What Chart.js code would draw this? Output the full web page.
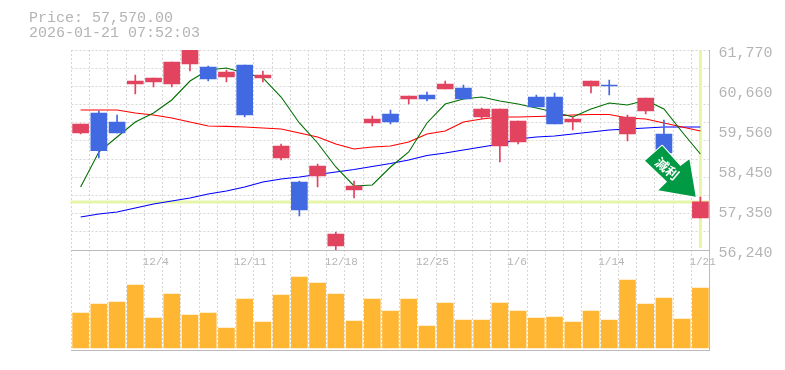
<!DOCTYPE html>
<html><head><meta charset="utf-8">
<style>html,body{margin:0;padding:0;background:#fff}canvas{display:block}</style>
<script src="https://cdn.jsdelivr.net/npm/chart.js@4"></script>
</head><body><canvas id="c" width="785" height="370"></canvas>
<script>
const tickLabelsX = {4:'12/4',9:'12/11',14:'12/18',19:'12/25',24:'1/6',29:'1/14',34:'1/21'};
const categories = ['11/27','11/28','12/1','12/2','12/4','12/5','12/6','12/7','12/8','12/11','12/12','12/13','12/14','12/15','12/18','12/19','12/20','12/21','12/22','12/25','12/26','12/27','12/28','12/29','1/6','1/7','1/8','1/9','1/10','1/14','1/15','1/16','1/17','1/20','1/21'];
const opens  = [59475,60028,59779,60830,60885,60830,61383,61300,61023,61355,60996,58784,58120,58286,56351,57899,59751,60000,60415,60526,60692,60719,59917,59116,59226,60470,60470,59779,60775,60802,59447,60083,59447,58452,57125];
const closes = [59724,58985,59475,60913,60996,61438,61770,60968,61162,59973,61079,59116,57346,58563,56682,58010,59862,59779,60498,60415,60830,60415,60139,60139,59807,60194,59724,59862,60913,60775,59917,60443,58922,58120,57570];
const highs  = [59724,60083,59972,61079,60996,61438,61770,61328,61217,61355,61190,59171,58148,58618,56738,58148,59945,60111,60498,60609,60913,60802,60166,60139,59807,60526,60581,59917,60913,60941,59973,60443,59834,58452,57705];
const lows   = [59447,58784,59475,60553,60747,60747,61190,60913,60885,59917,60885,58729,57180,57982,56240,57678,59669,59724,60277,60360,60692,60415,59862,58673,59171,60194,59724,59558,60581,60526,59254,60000,58922,58120,57125];
const maShort = [57982,58950,59364,59779,60028,60388,60913,61217,61272,61134,60996,60470,59752,59199,58535,58010,58037,58535,58950,59752,60277,60415,60470,60360,60277,60166,60056,59917,60139,60305,60249,60380,60139,59503,58894];
const maMid   = [60111,60111,60111,60028,59973,59890,59779,59669,59660,59641,59613,59586,59475,59364,59171,59033,59088,59116,59226,59447,59530,59779,59862,59917,59917,59931,59945,59973,59986,59986,59890,59862,59752,59641,59530];
const maLong  = [57152,57235,57291,57401,57512,57595,57678,57788,57871,57982,58120,58203,58258,58328,58397,58466,58549,58632,58728,58853,58922,59005,59088,59171,59309,59364,59392,59447,59503,59558,59586,59613,59641,59641,59641];
const volumes = [35,44,46,63,30,54,33,35,20,49,26,53,71,65,54,27,49,37,49,22,45,28,28,45,37,30,31,26,37,28,68,44,50,29,60];
const priceTicks = [61770,60664,59558,58452,57346,56240];
const priceTickLabels = ['61,770','60,660','59,560','58,450','57,350','56,240'];
const lastPrice = 57570;
const headerLines = ['Price: 57,570.00','2026-01-21 07:52:03'];
const arrowLabel = '減利';

const RED='#e2435f', BLUE='#4169e1', GRID='#d6d6d6', AXIS='#bbbbbb', TXT='#b4b4b4', MARK='#e6f5a8';
const MONO='"Liberation Mono", monospace';
const pMin=56240, pMax=61770, gridN=11;
const gridVals=Array.from({length:gridN+1},(_,i)=>pMin+i*(pMax-pMin)/gridN);
const candleColors=opens.map((o,i)=>closes[i]>=o?RED:BLUE);

const overlay={
  id:'overlay',
  beforeDatasetsDraw(chart){
    const {ctx,chartArea:a,scales:{x,y}}=chart;
    const py=y.getPixelForValue(lastPrice), px=x.getPixelForValue(categories.length-1);
    ctx.save();
    ctx.strokeStyle=MARK; ctx.lineWidth=3;
    ctx.beginPath();ctx.moveTo(a.left-1,py);ctx.lineTo(a.right,py);
    ctx.moveTo(px,a.top+1);ctx.lineTo(px,y.bottom-2);ctx.stroke();
    ctx.restore();
  },
  afterDraw(chart){
    const {ctx,scales:{x,y}}=chart;
    ctx.save();
    ctx.fillStyle=TXT; ctx.font='15px '+MONO; ctx.textBaseline='middle';
    headerLines.forEach((t,i)=>ctx.fillText(t,29,18+i*15));
    const tx=x.getPixelForValue(categories.length-1)-4.7, ty=y.getPixelForValue(lastPrice)-5.2;
    const pts=[[-50.6,-36],[-33.6,-51],[-15.3,-30.7],[-6.3,-37.4],[0,0],[-37.3,-6.4],[-28.6,-15]];
    ctx.beginPath();pts.forEach((p,i)=>i?ctx.lineTo(tx+p[0],ty+p[1]):ctx.moveTo(tx+p[0],ty+p[1]));ctx.closePath();
    ctx.lineJoin='round';ctx.strokeStyle='#fff';ctx.lineWidth=2;ctx.stroke();
    ctx.fillStyle='#009944';ctx.fill();
    ctx.translate(tx-28.5,ty-28);ctx.rotate(40*Math.PI/180);
    ctx.fillStyle='#fff';ctx.font='bold 13px "Noto Sans CJK TC"';ctx.textAlign='center';ctx.textBaseline='middle';
    ctx.fillText(arrowLabel,0,0);
    ctx.restore();
  }
};

new Chart(document.getElementById('c'),{
  type:'bar',
  data:{labels:categories,datasets:[
    {type:'bar',data:volumes,yAxisID:'y2',backgroundColor:'#ffb733',barThickness:16,order:5},
    {type:'bar',data:opens.map((o,i)=>[lows[i],highs[i]]),yAxisID:'y',backgroundColor:candleColors,barThickness:1,order:2},
    {type:'bar',data:opens.map((o,i)=>[o,closes[i]]),yAxisID:'y',backgroundColor:candleColors,barThickness:16,order:1},
    {type:'line',data:maShort,yAxisID:'y',borderColor:'#006f00',borderWidth:1.1,pointRadius:0,tension:0,order:3},
    {type:'line',data:maMid,yAxisID:'y',borderColor:'#ff0000',borderWidth:1.2,pointRadius:0,tension:0,order:3},
    {type:'line',data:maLong,yAxisID:'y',borderColor:'#0000ff',borderWidth:1.2,pointRadius:0,tension:0,order:3}
  ]},
  options:{
    responsive:false,animation:false,
    layout:{padding:{left:71.5,top:50,bottom:20,right:0}},
    plugins:{legend:{display:false},tooltip:{enabled:false},title:{display:false}},
    datasets:{bar:{grouped:false}},
    scales:{
      x:{type:'category',offset:true,position:{y:pMin},
        grid:{offset:true,color:GRID,drawTicks:false},
        border:{color:AXIS,width:1,dash:[2,2]},
        ticks:{autoSkip:false,maxRotation:0,minRotation:0,align:'start',labelOffset:-11,padding:5,color:TXT,font:{family:MONO,size:11},
          callback:(v,i)=>tickLabelsX[i]||''}},
      x2:{type:'category',offset:true,position:'bottom',
        grid:{display:false,drawTicks:false},border:{color:AXIS,width:1},ticks:{display:false}},
      y:{type:'linear',position:'right',stack:'p',stackWeight:2,min:pMin,max:pMax,
        afterBuildTicks(s){s.ticks=[...new Set([...gridVals,...priceTicks])].sort((a,b)=>a-b).map(value=>({value}));},
        afterFit(s){s.width=75.5;},
        grid:{drawTicks:false,color:c=>gridVals.includes(c.tick&&c.tick.value)?GRID:'rgba(0,0,0,0)'},
        border:{color:AXIS,width:1,dash:[2,2]},
        ticks:{autoSkip:false,padding:9,labelOffset:3,color:TXT,font:{family:MONO,size:15},
          callback:v=>{const k=priceTicks.indexOf(v);return k>=0?priceTickLabels[k]:'';}}},
      y2:{type:'linear',position:'right',stack:'p',stackWeight:1,min:-2,max:98,
        afterFit(s){s.width=75.5;},
        grid:{display:false,drawTicks:false},border:{color:AXIS,width:1},ticks:{display:false}}
    }
  },
  plugins:[overlay]
});
</script></body></html>
